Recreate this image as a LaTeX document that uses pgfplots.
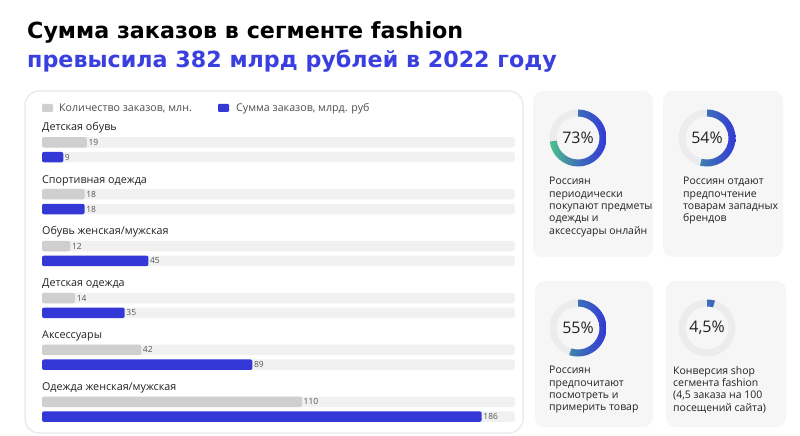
\documentclass[border=0pt]{standalone}
\usepackage{pgfplots}
\usepackage{pgfplotstable}
\pgfplotsset{compat=1.18}
\usepackage{fontspec}
\setmainfont{Open Sans}
\newfontfamily\titlefont{DejaVu Sans}
\definecolor{myblue}{HTML}{3338D6}
\definecolor{titleblue}{HTML}{3A3FE0}
\definecolor{bargray}{HTML}{CFCFCF}
\definecolor{track}{HTML}{F1F1F2}
\definecolor{ringgreen}{HTML}{4CC38A}
\definecolor{cardbg}{HTML}{F6F6F7}
\definecolor{ringbg}{HTML}{ECECEE}
\definecolor{txt}{HTML}{222222}
\definecolor{valtxt}{HTML}{555555}

\pgfplotstableread{
y v
142.3 19
194.2 18
246.1 12
298.0 14
349.9 42
401.8 110
}\counttable
\pgfplotstableread{
y v
157.1 9
209.0 18
260.9 45
312.8 35
364.7 89
416.6 186
}\sumtable

\newcommand{\donut}[4]{%
  \begin{scope}[shift={(#1bp,-#2bp)}, x=1bp, y=1bp]
    \draw[line width=7bp, color=ringbg] (0,0) circle[radius=25];
    \begin{scope}
      \clip (90:28.5) arc[start angle=90, end angle={90-3.6*#3}, radius=28.5]
        -- ({90-3.6*#3}:21.5) arc[start angle={90-3.6*#3}, end angle=90, radius=21.5] -- cycle;
      \shade[left color=ringgreen, right color=myblue, middle color=ringgreen!40!myblue] (-28.5,-28.5) rectangle (28.5,28.5);
    \end{scope}
    \node[font=\fontsize{16}{16}\selectfont, text=txt, inner sep=0] at (0,0) {#4};
  \end{scope}}

\begin{document}
\begin{tikzpicture}
\begin{scope}[x=1bp, y=-1bp]
  \fill[white] (0,0) rectangle (800,436);
  \path[use as bounding box] (0,0) rectangle (800,436);
  % title
  \node[anchor=base west, inner sep=0, font=\titlefont\fontsize{22.3}{22}\selectfont\bfseries, text=black] at (27,38.5) {Сумма заказов в сегменте fashion};
  \node[anchor=base west, inner sep=0, font=\titlefont\fontsize{22.3}{22}\selectfont\bfseries, text=titleblue] at (27,68) {превысила 382 млрд рублей в 2022 году};
  % left panel
  \fill[rounded corners=14bp, draw=ringbg, line width=1.5bp, fill=white] (25,91) rectangle (523,433);
  % legend
  \fill[bargray, rounded corners=1bp] (42,104) rectangle (53,112);
  \node[anchor=west, inner sep=0, font=\fontsize{10.7}{11}\selectfont, text=txt!80] at (59,108.5) {Количество заказов, млн.};
  \fill[myblue, rounded corners=1bp] (218,104) rectangle (229,112);
  \node[anchor=west, inner sep=0, font=\fontsize{10.7}{11}\selectfont, text=txt!80] at (236,108.5) {Сумма заказов, млрд. руб};
  % cards
  \fill[cardbg, rounded corners=10bp] (533,91) rectangle (653,257);
  \fill[cardbg, rounded corners=10bp] (663,91) rectangle (783,257);
  \fill[cardbg, rounded corners=10bp] (535,281) rectangle (653,427);
  \fill[cardbg, rounded corners=10bp] (666,281) rectangle (786,427);
  \node[anchor=north west, inner sep=0, align=left, font=\fontsize{10.5}{12.4}\selectfont, text=txt] at (549,177)
    {Россиян\\периодически\\покупают предметы\\одежды и\\аксессуары онлайн};
  \node[anchor=north west, inner sep=0, align=left, font=\fontsize{10.5}{12.4}\selectfont, text=txt] at (683,177)
    {Россиян отдают\\предпочтение\\товарам западных\\брендов};
  \node[anchor=north west, inner sep=0, align=left, font=\fontsize{10.5}{12.4}\selectfont, text=txt] at (549,366)
    {Россиян\\предпочитают\\посмотреть и\\примерить товар};
  \node[anchor=north west, inner sep=0, align=left, font=\fontsize{10.5}{12.4}\selectfont, text=txt] at (673,366)
    {Конверсия shop\\сегмента fashion\\(4,5 заказа на 100\\посещений сайта)};
\end{scope}
\donut{578}{138}{73}{73\%}
\donut{707}{138}{54}{54\%}
\donut{578}{328}{55}{55\%}
\donut{707}{328}{4.5}{4,5\%}

\begin{axis}[
  at={(42bp,-100bp)}, anchor=north west,
  x=2.364bp, y=1bp, y dir=reverse,
  xmin=0, xmax=200, ymin=100, ymax=430,
  hide axis, clip=false,
  /pgf/number format/assume math mode=true,
  every node near coord/.style={anchor=west, inner sep=1.5bp, font=\fontsize{8.5}{8.5}\selectfont, text=valtxt},
]
\addplot[xbar, bar shift=0pt, bar width=10.5bp, fill=track, draw=none, rounded corners=3bp]
  coordinates {(200,142.3) (200,194.2) (200,246.1) (200,298.0) (200,349.9) (200,401.8)
               (200,157.1) (200,209.0) (200,260.9) (200,312.8) (200,364.7) (200,416.6)};
\addplot[xbar, bar shift=0pt, bar width=10.5bp, fill=bargray, draw=none, rounded corners=2bp,
  nodes near coords] table[x=v, y=y] {\counttable};
\addplot[xbar, bar shift=0pt, bar width=10.5bp, fill=myblue, draw=none, rounded corners=2bp,
  nodes near coords] table[x=v, y=y] {\sumtable};
\node[anchor=west, inner sep=0, font=\fontsize{10.8}{11}\selectfont, text=txt] at (axis cs:0,128) {Детская обувь};
\node[anchor=west, inner sep=0, font=\fontsize{10.8}{11}\selectfont, text=txt] at (axis cs:0,180.5) {Спортивная одежда};
\node[anchor=west, inner sep=0, font=\fontsize{10.8}{11}\selectfont, text=txt] at (axis cs:0,232) {Обувь женская/мужская};
\node[anchor=west, inner sep=0, font=\fontsize{10.8}{11}\selectfont, text=txt] at (axis cs:0,284) {Детская одежда};
\node[anchor=west, inner sep=0, font=\fontsize{10.8}{11}\selectfont, text=txt] at (axis cs:0,336) {Аксессуары};
\node[anchor=west, inner sep=0, font=\fontsize{10.8}{11}\selectfont, text=txt] at (axis cs:0,387.7) {Одежда женская/мужская};
\end{axis}
\end{tikzpicture}
\end{document}
